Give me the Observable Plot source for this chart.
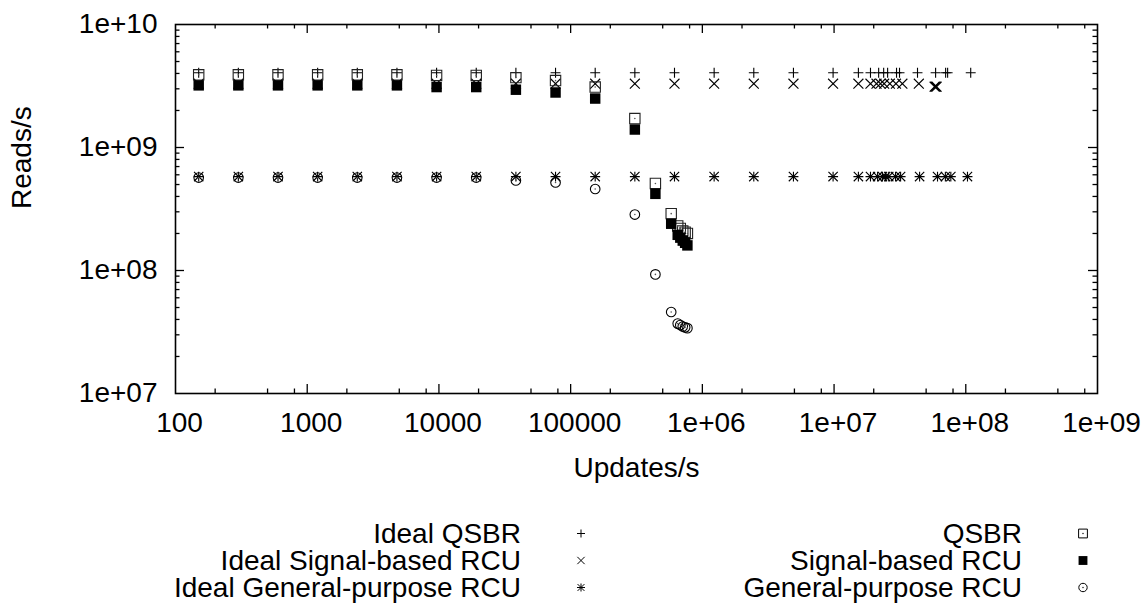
<!DOCTYPE html>
<html><head><meta charset="utf-8">
<script src="https://cdn.jsdelivr.net/npm/d3@7"></script>
<script src="https://cdn.jsdelivr.net/npm/@observablehq/plot@0.6"></script>
<style>
body{margin:0;background:#fff;font-family:"Liberation Sans",Arial,Helvetica,sans-serif;}
#chart svg{display:block;}
#legend{position:relative;width:1144px;height:85px;font-size:28px;color:#000;}
.lt{position:absolute;height:27px;line-height:27px;text-align:right;white-space:nowrap;}
.ls{position:absolute;}
</style></head><body>
<div id="chart"></div>
<div id="legend"></div>
<script>
// ---- data ----
const idealQsbrX = [150,300,600,1200,2400,4800,9600,19200,38400,76800,153600,307200,614400,1228800,2457600,4915200,9830400,1.53e7,1.89e7,2.18e7,2.38e7,2.55e7,2.98e7,3.14e7,4.3e7,5.9e7,7.03e7,7.28e7,1.09e8];
const idealQsbrY = [4.05e9,4.05e9,4.05e9,4.05e9,4.05e9,4.05e9,4.05e9,4.05e9,4.05e9,4.05e9,4.05e9,4.05e9,4.05e9,4.05e9,4.05e9,4.05e9,4.05e9,4.05e9,4.05e9,4.05e9,4.05e9,4.05e9,4.05e9,4.05e9,4.05e9,4.05e9,4.05e9,4.05e9,4.05e9];

const idealSignalX = [150,300,600,1200,2400,4800,9600,19200,38400,76800,153600,307200,614400,1228800,2457600,4915200,9830400,1.53e7,1.89e7,2.1e7,2.25e7,2.4e7,2.65e7,2.95e7,3.3e7,4.4e7,5.8e7,5.9e7,6.0e7];
const idealSignalY = [3.3e9,3.3e9,3.3e9,3.3e9,3.3e9,3.3e9,3.3e9,3.3e9,3.3e9,3.3e9,3.3e9,3.3e9,3.3e9,3.3e9,3.3e9,3.3e9,3.3e9,3.3e9,3.3e9,3.3e9,3.3e9,3.3e9,3.3e9,3.3e9,3.3e9,3.3e9,3.12e9,3.12e9,3.12e9];

const idealGpX = [150,300,600,1200,2400,4800,9600,19200,38400,76800,153600,307200,614400,1228800,2457600,4915200,9830400,1.53e7,1.89e7,2.14e7,2.33e7,2.46e7,2.6e7,2.93e7,3.2e7,4.46e7,6.1e7,7.0e7,7.7e7,1.03e8];
const idealGpY = [5.8e8,5.8e8,5.8e8,5.8e8,5.8e8,5.8e8,5.8e8,5.8e8,5.8e8,5.8e8,5.8e8,5.8e8,5.8e8,5.8e8,5.8e8,5.8e8,5.8e8,5.8e8,5.8e8,5.8e8,5.8e8,5.8e8,5.8e8,5.8e8,5.8e8,5.8e8,5.8e8,5.8e8,5.8e8,5.8e8];

const testX = [150,300,600,1200,2400,4800,9600,19200,38400,76800,153600,307200,4.4e5,5.8e5,6.5e5,6.8e5,7.1e5,7.4e5,7.7e5];
const qsbrY   = [3.9e9,3.9e9,3.9e9,3.9e9,3.9e9,3.9e9,3.85e9,3.85e9,3.7e9,3.5e9,3.1e9,1.72e9,5.1e8,2.9e8,2.3e8,2.2e8,2.1e8,2.05e8,2.0e8];
const signalY = [3.2e9,3.2e9,3.2e9,3.2e9,3.2e9,3.2e9,3.1e9,3.1e9,2.95e9,2.8e9,2.5e9,1.4e9,4.2e8,2.4e8,1.95e8,1.85e8,1.75e8,1.68e8,1.6e8];
const gpY     = [5.7e8,5.7e8,5.7e8,5.7e8,5.7e8,5.7e8,5.7e8,5.7e8,5.4e8,5.2e8,4.6e8,2.85e8,9.3e7,4.6e7,3.7e7,3.6e7,3.5e7,3.45e7,3.4e7];

const xMajor = [1e2,1e3,1e4,1e5,1e6,1e7,1e8,1e9];
const xTickLabels = ["100","1000","10000","100000","1e+06","1e+07","1e+08","1e+09"];
const yMajor = [1e7,1e8,1e9,1e10];
const yTickLabels = ["1e+07","1e+08","1e+09","1e+10"];
const xMinorMult = [2,5,8];
const yMinorMult = [2,3,4,5,6,7,8,9];

const seriesNames = ["Ideal QSBR","Ideal Signal-based RCU","Ideal General-purpose RCU","QSBR","Signal-based RCU","General-purpose RCU"];

// ---- tables ----
const rows = (xs, ys) => xs.map((x, i) => ({x, y: ys[i]}));
const idealQsbr = rows(idealQsbrX, idealQsbrY);
const idealSignal = rows(idealSignalX, idealSignalY);
const idealGp = rows(idealGpX, idealGpY);
const qsbr = rows(testX, qsbrY);
const signal = rows(testX, signalY);
const gp = rows(testX, gpY);

const xMinor = xMajor.slice(0, -1).flatMap(d => xMinorMult.map(m => d * m));
const yMinor = yMajor.slice(0, -1).flatMap(d => yMinorMult.map(m => d * m));

// ---- layout ----
const W = 1144, H = 520, mL = 175, mR = 47, mT = 24, mB = 127;
const fh = H - mT - mB, fw = W - mL - mR;
const TS = 9, MS = 4.5;
const FONT = "'Liberation Sans', Arial, Helvetica, sans-serif";
const FS = 28;

const tick = (arr, size) => [
  Plot.ruleX(arr, {insetTop: fh - size, stroke: "black", strokeWidth: 1.3}),
  Plot.ruleX(arr, {insetBottom: fh - size, stroke: "black", strokeWidth: 1.3})
];
const tickY = (arr, size) => [
  Plot.ruleY(arr, {insetRight: fw - size, stroke: "black", strokeWidth: 1.3}),
  Plot.ruleY(arr, {insetLeft: fw - size, stroke: "black", strokeWidth: 1.3})
];

const chart = Plot.plot({
  width: W, height: H,
  marginLeft: mL, marginRight: mR, marginTop: mT, marginBottom: mB,
  style: {fontFamily: FONT, fontSize: FS + "px", background: "white", color: "black"},
  x: {type: "log", domain: [1e2, 1e9]},
  y: {type: "log", domain: [1e7, 1e10]},
  marks: [
    ...tick(xMajor.slice(1, -1), TS),
    ...tick(xMinor, MS),
    ...tickY(yMajor.slice(1, -1), TS),
    ...tickY(yMinor, MS),
    Plot.axisX({ticks: xMajor, tickSize: 0, tickPadding: 19, dx: 4, fontSize: FS,
      tickFormat: d => xTickLabels[xMajor.indexOf(d)], label: null}),
    Plot.axisY({ticks: yMajor, tickSize: 0, tickPadding: 18, fontSize: FS,
      tickFormat: d => yTickLabels[yMajor.indexOf(d)], label: null}),
    Plot.text(["Updates/s"], {frameAnchor: "bottom", dy: 83, fontSize: FS, fill: "black"}),
    Plot.text(["Reads/s"], {frameAnchor: "left", dx: -153, rotate: -90, fontSize: FS, fill: "black"}),
    // series
    Plot.dot(idealQsbr, {x: "x", y: "y", symbol: "plus", r: 3.3, stroke: "black", fill: "none", strokeWidth: 1.1}),
    Plot.dot(idealSignal, {x: "x", y: "y", symbol: "times", r: 4.6, stroke: "black", fill: "none", strokeWidth: 1.1}),
    Plot.dot(idealGp, {x: "x", y: "y", symbol: "plus", r: 3.3, stroke: "black", fill: "none", strokeWidth: 1.1}),
    Plot.dot(idealGp, {x: "x", y: "y", symbol: "times", r: 4.3, stroke: "black", fill: "none", strokeWidth: 1.1}),
    Plot.dot(qsbr, {x: "x", y: "y", symbol: "square2", r: 6.6, stroke: "#222", fill: "none", strokeWidth: 1.1}),
    Plot.dot(qsbr, {x: "x", y: "y", r: 0.8, fill: "#555", stroke: null}),
    Plot.dot(signal, {x: "x", y: "y", symbol: "square", r: 5.9, fill: "black", stroke: null}),
    Plot.dot(gp, {x: "x", y: "y", symbol: "circle", r: 4.8, stroke: "black", fill: "none", strokeWidth: 1.1}),
    Plot.dot(gp, {x: "x", y: "y", r: 0.8, fill: "#555", stroke: null}),
    Plot.frame({stroke: "black", strokeWidth: 1.6})
  ]
});
document.getElementById("chart").appendChild(chart);

// ---- legend ----
const legend = d3.select("#legend");
const sz = r => Math.PI * r * r;
const legendSymbols = [
  [{t: d3.symbolPlus, r: 2.7, stroke: true}],
  [{t: d3.symbolTimes, r: 3.4, stroke: true}],
  [{t: d3.symbolPlus, r: 2.7, stroke: true}, {t: d3.symbolTimes, r: 3.2, stroke: true}],
  [{t: d3.symbolSquare2, r: 5.6, stroke: true}, {t: d3.symbolCircle, r: 0.7, fill: true}],
  [{t: d3.symbolSquare, r: 5.0, fill: true}],
  [{t: d3.symbolCircle, r: 4.2, stroke: true}, {t: d3.symbolCircle, r: 0.7, fill: true}]
];
seriesNames.forEach((name, i) => {
  const col = Math.floor(i / 3), row = i % 3;
  const textRight = col === 0 ? 521 : 1022;
  const symX = col === 0 ? 581 : 1083;
  legend.append("div").attr("class", "lt")
    .style("left", (textRight - 480) + "px").style("width", "480px")
    .style("top", (row * 27) + "px").text(name);
  const svg = legend.append("svg").attr("class", "ls")
    .attr("width", 24).attr("height", 27)
    .style("left", (symX - 12) + "px").style("top", (row * 27) + "px");
  legendSymbols[i].forEach(s => {
    svg.append("path")
      .attr("transform", "translate(12,13.5)")
      .attr("d", d3.symbol(s.t, sz(s.r))())
      .attr("fill", s.fill ? "black" : "none")
      .attr("stroke", s.stroke ? "black" : "none")
      .attr("stroke-width", 1);
  });
});
</script>
</body></html>
